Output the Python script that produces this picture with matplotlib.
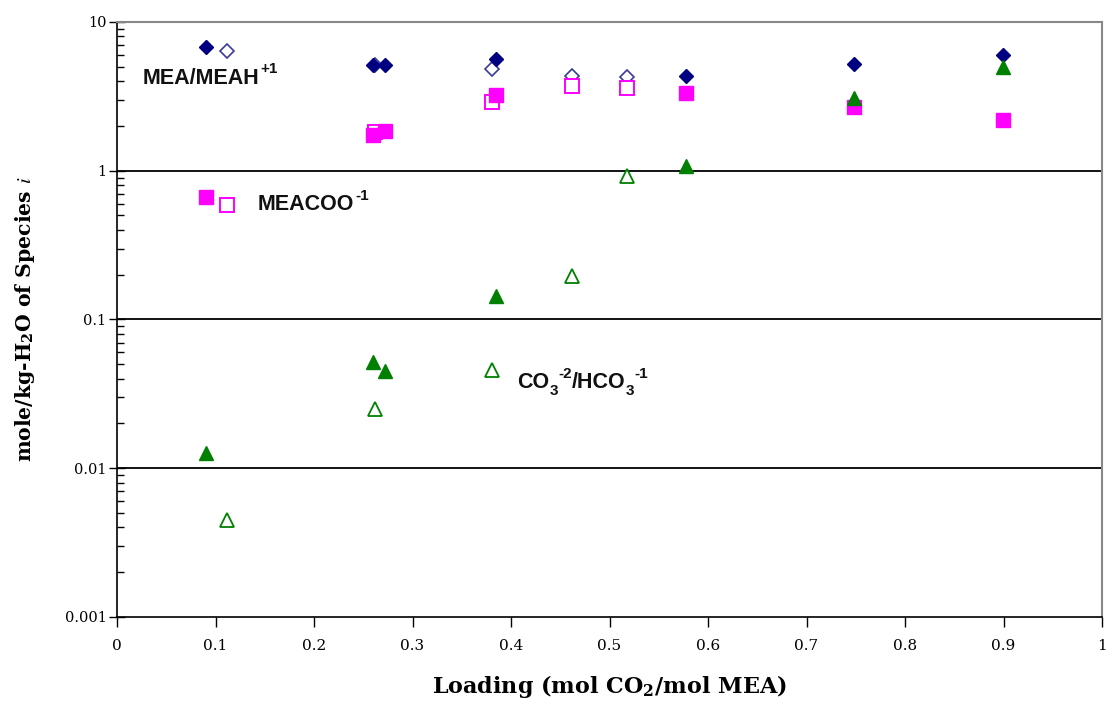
import matplotlib
matplotlib.use("Agg")
import matplotlib.pyplot as plt
from matplotlib.ticker import LogLocator, FixedLocator, NullFormatter

# ---- data ----
mea_x = [0.09, 0.26, 0.272, 0.385, 0.578, 0.748, 0.899]
mea_y = [6.8, 5.15, 5.15, 5.65, 4.35, 5.2, 6.0]
mea_open_x = [0.112, 0.262, 0.381, 0.462, 0.518]
mea_open_y = [6.4, 5.1, 4.8, 4.35, 4.27]

coo_x = [0.09, 0.26, 0.272, 0.385, 0.578, 0.748, 0.899]
coo_y = [0.667, 1.74, 1.85, 3.23, 3.33, 2.68, 2.19]
coo_open_x = [0.112, 0.262, 0.381, 0.462, 0.518]
coo_open_y = [0.59, 1.82, 2.9, 3.71, 3.6]

co3_x = [0.09, 0.26, 0.272, 0.385, 0.578, 0.748, 0.899]
co3_y = [0.0127, 0.0518, 0.0451, 0.144, 1.08, 3.08, 4.98]
co3_open_x = [0.112, 0.262, 0.381, 0.462, 0.518]
co3_open_y = [0.00449, 0.025, 0.0457, 0.196, 0.923]

xticks = [0, 0.1, 0.2, 0.3, 0.4, 0.5, 0.6, 0.7, 0.8, 0.9, 1]
xtick_labels = ["0", "0.1", "0.2", "0.3", "0.4", "0.5", "0.6", "0.7", "0.8", "0.9", "1"]
yticks = [0.001, 0.01, 0.1, 1, 10]
ytick_labels = ["0.001", "0.01", "0.1", "1", "10"]

plt.rcParams['mathtext.fontset'] = 'stix'

fig = plt.figure(figsize=(11.07, 7.04), dpi=100)
ax = fig.add_axes([0.1057, 0.1236, 0.8898, 0.8452])
ax.set_yscale('log')
ax.set_xlim(0, 1)
ax.set_ylim(0.001, 10)

navy = '#000080'
mag = '#FF00FF'
grn = '#008000'

# grid lines at decades
for v in [0.01, 0.1, 1]:
    ax.axhline(v, color='black', lw=1.3, zorder=1)

ax.plot(mea_open_x, mea_open_y, 'D', ms=7.5, mfc='white', mec='#3a3a9a', mew=1.2, ls='none', zorder=3)
ax.plot(coo_open_x, coo_open_y, 's', ms=9.5, mfc='white', mec=mag, mew=1.4, ls='none', zorder=3)
ax.plot(co3_open_x, co3_open_y, '^', ms=9.5, mfc='white', mec=grn, mew=1.3, ls='none', zorder=3)
ax.plot(mea_x, mea_y, 'D', ms=7.5, color=navy, ls='none', zorder=4)
ax.plot(coo_x, coo_y, 's', ms=10, color=mag, ls='none', zorder=4)
ax.plot(co3_x, co3_y, '^', ms=10.5, color=grn, ls='none', zorder=4)

# annotations (built from pieces so super/subscripts use plain hyphens)
afont = dict(family='Liberation Sans', fontweight='bold', color='#111111')
big = 15.5
small = 11


def sup(prev, base, s, dx=1):
    return ax.annotate(s, xy=(1, 0.92), xycoords=(prev, base), xytext=(dx, 0),
                       textcoords='offset points', ha='left', va='center',
                       fontsize=small, **afont)


def sub(prev, base, s):
    return ax.annotate(s, xy=(1, 0.12), xycoords=(prev, base), xytext=(0.5, 0),
                       textcoords='offset points', ha='left', va='center',
                       fontsize=small, **afont)


t = ax.text(0.026, 4.2, "MEA/MEAH", fontsize=big, ha='left', va='center', **afont)
sup(t, t, "+1")

t = ax.text(0.143, 0.59, "MEACOO", fontsize=big, ha='left', va='center', **afont)
sup(t, t, "-1")

t1 = ax.text(0.406, 0.0375, "CO", fontsize=big, ha='left', va='center', **afont)
s1 = sub(t1, t1, "3")
p1 = sup(s1, t1, "-2", dx=0)
t2 = ax.annotate("/HCO", xy=(1, 0), xycoords=(p1, t1), ha='left', va='bottom',
                 fontsize=big, **afont)
s2 = sub(t2, t2, "3")
sup(s2, t2, "-1", dx=0)

# ticks
ax.xaxis.set_major_locator(FixedLocator(xticks))
ax.set_xticklabels(xtick_labels, family='DejaVu Serif', fontsize=11)
ax.yaxis.set_major_locator(FixedLocator(yticks))
ax.set_yticklabels(ytick_labels, family='DejaVu Serif', fontsize=10.5)
ax.yaxis.set_minor_locator(LogLocator(base=10, subs=range(2, 10)))
ax.yaxis.set_minor_formatter(NullFormatter())
ax.tick_params(axis='x', which='major', direction='out', length=7, width=1, pad=9)
ax.tick_params(axis='y', which='major', direction='inout', length=11, width=1, pad=2)
ax.tick_params(axis='y', which='minor', direction='in', length=5, width=1)

for s in ['left', 'bottom']:
    ax.spines[s].set_color('black')
    ax.spines[s].set_linewidth(1.2)
for s in ['top', 'right']:
    ax.spines[s].set_color('#888888')
    ax.spines[s].set_linewidth(1.5)

ax.set_xlabel(r"Loading (mol CO$_{\mathregular{2}}$/mol MEA)", family='DejaVu Serif',
              fontweight='bold', fontsize=16, labelpad=14)
ax.set_ylabel(r"mole/kg-H$_{\mathregular{2}}$O of Species $\mathit{i}$", family='DejaVu Serif',
              fontweight='bold', fontsize=14.7, labelpad=20)

fig.savefig("out.png", dpi=100)
